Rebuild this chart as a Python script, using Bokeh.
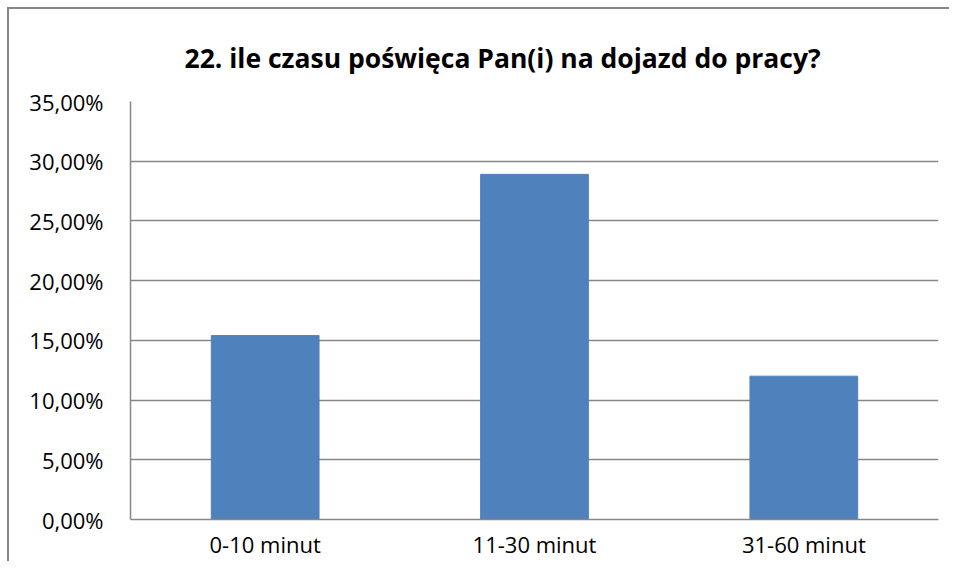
from bokeh.plotting import figure
from bokeh.models import FactorRange, Range1d, FixedTicker, InlineStyleSheet
from bokeh.embed import file_html
from bokeh.resources import INLINE

categories = ["0-10 minut", "11-30 minut", "31-60 minut"]
values = [15.4, 28.9, 12.0]
y_ticks = [0, 5, 10, 15, 20, 25, 30, 35]
y_tick_labels = ["0,00%", "5,00%", "10,00%", "15,00%", "20,00%", "25,00%", "30,00%", "35,00%"]
title_text = "22. ile czasu poświęca Pan(i) na dojazd do pracy?"

GRID = "#878787"
BAR = "#4F81BD"
FONT = "Open Sans"

p = figure(
    width=949, height=561,
    x_range=FactorRange(*categories, range_padding=0),
    y_range=Range1d(0, 35),
    output_backend="svg", toolbar_location=None,
    min_border_left=130, min_border_right=11,
    min_border_top=101, min_border_bottom=42,
)

# outer chart border (only its left and top edges are inside the picture)
p.stylesheets = [InlineStyleSheet(css=(
    ":host::after { content: ''; position: absolute; left: 7px; top: 7px; "
    "width: calc(100% - 7px); height: calc(100% - 7px); box-sizing: border-box; "
    "border-left: 2px solid #878787; border-top: 2px solid #878787; "
    "pointer-events: none; z-index: 10; }"
))]

p.title.text = title_text
p.title.text_font = FONT
p.title.text_font_size = "26.5px"
p.title.text_font_style = "bold"
p.title.text_color = "#000000"
p.title.align = "left"
p.title.offset = 54
p.title.standoff = 52

p.vbar(x=categories, top=values, width=0.4, color=BAR, line_color=BAR)

p.outline_line_color = None
p.background_fill_color = "white"
p.border_fill_color = "white"

p.xgrid.grid_line_color = None
p.ygrid.grid_line_color = GRID
p.ygrid.grid_line_width = 1.5
p.yaxis.ticker = FixedTicker(ticks=y_ticks)
p.yaxis.major_label_overrides = {t: l for t, l in zip(y_ticks, y_tick_labels)}

for ax in (p.xaxis, p.yaxis):
    ax.axis_line_color = GRID
    ax.axis_line_width = 1.5
    ax.major_tick_line_color = None
    ax.minor_tick_line_color = None
    ax.major_tick_out = 0
    ax.major_tick_in = 0
    ax.minor_tick_out = 0
    ax.minor_tick_in = 0
    ax.major_label_text_font = FONT
    ax.major_label_text_font_size = "22px"
    ax.major_label_text_color = "#000000"

p.yaxis.major_label_standoff = 27
p.xaxis.major_label_standoff = 9

open("out.html", "w").write(file_html(p, INLINE))
